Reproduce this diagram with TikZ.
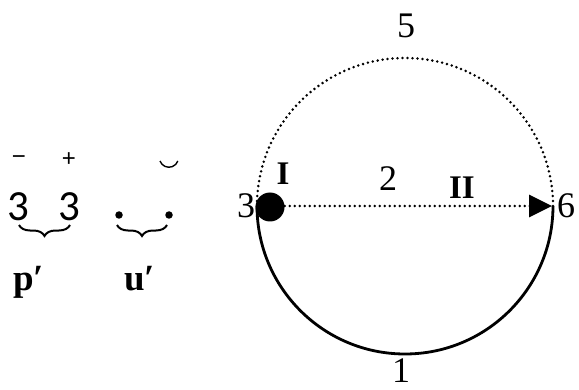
\documentclass[tikz,border=0pt]{standalone}
\usepackage{fontspec}
\setmainfont{Liberation Serif}
\newfontfamily\sansdig{Carlito}
\newfontfamily\signfont{Liberation Sans}
\usetikzlibrary{arrows.meta,decorations.pathreplacing}
\begin{document}
\begin{tikzpicture}[x=1pt,y=1pt,
  lbl/.style={inner sep=0pt,font=\fontsize{36}{36}\selectfont},
  blbl/.style={inner sep=0pt,font=\fontsize{33}{33}\selectfont\bfseries},
  plbl/.style={inner sep=0pt,anchor=base west,font=\fontsize{37}{37}\selectfont\bfseries},
  sdig/.style={inner sep=0pt,font=\fontsize{43}{43}\sansdig},
  sgn/.style={inner sep=0pt,font=\fontsize{24}{24}\signfont},
  brc/.style={decorate,decoration={brace,mirror,amplitude=11pt},line width=2pt},
  dots/.style={line width=2.8pt,dash pattern=on 0pt off 5pt,line cap=round},
  ldot/.style={circle,fill=black,inner sep=0pt,minimum size=7.5pt}]
\useasboundingbox (0,0) rectangle (579,389);
% circle
\draw[line width=2.8pt] (257,183) arc[start angle=180,end angle=360,radius=148pt];
\draw[dots] (553,183) arc[start angle=0,end angle=180,radius=148pt];
\node[circle,fill=black,inner sep=0pt,minimum size=29pt] (d) at (270,182) {};
\coordinate (tip) at (552,183);
\draw[dots,-{Triangle[length=23pt,width=22pt,line cap=butt]}] (d.east |- tip) -- (tip);
\node[lbl] (l3) at (246,183) {3};
\node[lbl] (l6) at (566,183) {6};
\node[lbl] (l5) at (406,363) {5};
\node[lbl] (l1) at (401,18.5) {1};
\node[lbl] (l2) at (388,210) {2};
\node[blbl] (lI) at (283,215) {I};
\node[blbl] (lII) at (462,201) {II};
% left part
\node[sgn] (m) at (19,229) {−};
\node[sgn] (p) at (69,229) {+};
\node[sdig] (a) at (18,182) {3};
\node[sdig] (b) at (69,182) {3};
\draw[brc] (19,164) -- (70,164);
\node[plbl] (pp) at (13,99) {p′};
\node[ldot] (u1) at (119,174) {};
\node[ldot] (u2) at (169,174) {};
\draw[line width=1.4pt] (160,228) arc[start angle=200,end angle=340,radius=9.5pt];
\draw[brc] (117,164) -- (167,164);
\node[plbl] (uu) at (124,99) {u′};
\end{tikzpicture}
\end{document}
